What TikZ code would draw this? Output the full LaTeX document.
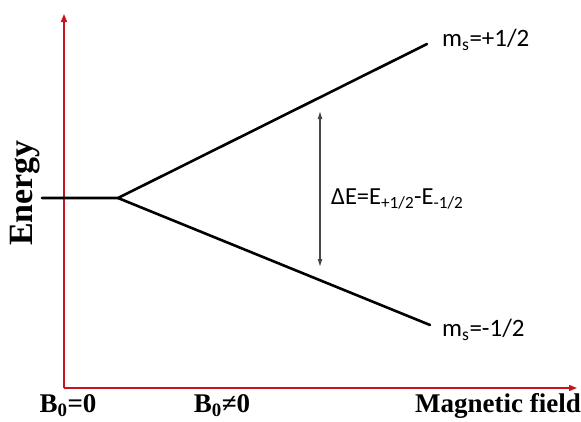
\documentclass[tikz,border=0pt]{standalone}
\usepackage{fontspec}
\setmainfont{Liberation Serif}
\newfontfamily\calib{Carlito}
\usetikzlibrary{arrows.meta}
\definecolor{axisred}{RGB}{200,20,30}
\definecolor{dgray}{RGB}{70,70,70}
\tikzset{
  axis/.style={draw=axisred, line width=1.5pt, -{Triangle[length=8pt,width=6pt]}},
  level/.style={draw=black, line width=2.6pt},
  gap/.style={draw=dgray, line width=1.1pt, {Latex[length=8pt,width=5pt]}-{Latex[length=8pt,width=5pt]}},
  axlabel/.style={font=\bfseries\fontsize{27}{30}\selectfont, inner sep=0pt},
  clabel/.style={font=\calib\fontsize{25}{28}\selectfont, inner sep=0pt, anchor=west},
}
\begin{document}
\begin{tikzpicture}[x=1pt,y=-1pt]
\useasboundingbox (0,0) rectangle (581,421);
\coordinate (O) at (64,388);
\coordinate (ytop) at (64,14);
\coordinate (xend) at (577,388);
\coordinate (start) at (42,198);
\coordinate (split) at (118,198);
\coordinate (up) at (427,44);
\coordinate (down) at (430,325);
\coordinate (atop) at (320,111);
\coordinate (abot) at (320,267);
\draw[axis] (O) -- (ytop);
\draw[axis] (O) -- (xend);
\draw[level, line cap=round] (start) -- (split) -- (up);
\draw[level, line cap=round] (split) -- (down);
\draw[gap] (atop) -- (abot);
\node[clabel] (lup) at (442,40) {m\textsubscript{s}=+1/2};
\node[clabel] (ldown) at (442,330) {m\textsubscript{s}=-1/2};
\node[clabel, font=\calib\fontsize{24.5}{27}\selectfont] (dE) at (331,199) {ΔE=E\textsubscript{+1/2}-E\textsubscript{-1/2}};
\node[font=\bfseries\fontsize{34}{36}\selectfont, inner sep=0pt, rotate=90] (en) at (25,193) {Energy};
\node[axlabel] (b1) at (68,406) {B\textsubscript{0}=0};
\node[axlabel] (b2) at (222,406) {B\textsubscript{0}≠0};
\node[axlabel, anchor=east] (mf) at (581,406) {Magnetic field};
\end{tikzpicture}
\end{document}
